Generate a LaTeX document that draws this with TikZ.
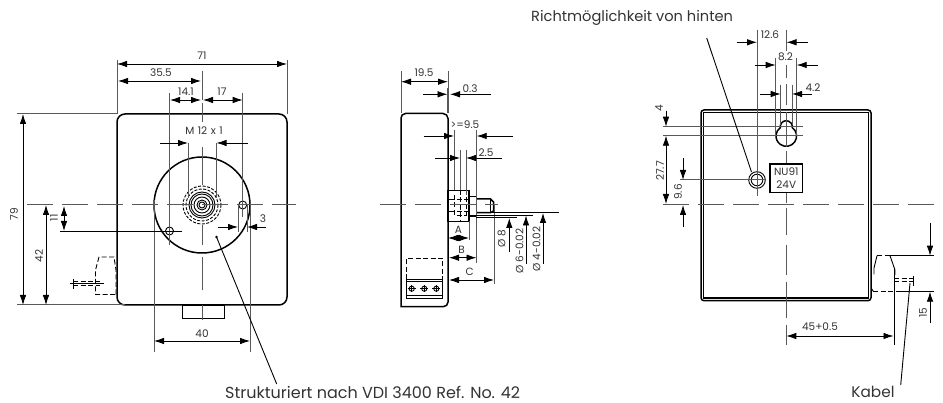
\documentclass[tikz,border=0pt]{standalone}
\usepackage{fontspec}
\setmainfont{Poppins}
\usetikzlibrary{arrows.meta}
\definecolor{inkgray}{gray}{0.2}
\definecolor{extgray}{gray}{0.35}
\tikzset{
  outline/.style={line width=1.5pt,black},
  thinline/.style={line width=0.9pt,black},
  extline/.style={line width=1pt,extgray},
  cline/.style={line width=1pt,extgray,dash pattern=on 26pt off 9pt},
  hidden/.style={line width=0.9pt,black,dash pattern=on 5pt off 2.5pt},
  dimline/.style={line width=0.8pt,black,{Latex[length=10pt,width=6.5pt]}-{Latex[length=10pt,width=6.5pt]}},
  dimto/.style={line width=0.8pt,black,-{Latex[length=10pt,width=6.5pt]}},
  lbl/.style={font=\fontsize{10.5}{10.5}\selectfont,text=inkgray,inner sep=0pt},
  rotlbl/.style={lbl,rotate=90},
  caption/.style={font=\fontsize{15.3}{16}\selectfont,text=inkgray,inner sep=0pt}
}
\begin{document}
\begin{tikzpicture}[x=1pt,y=-1pt]
  \useasboundingbox (0,0) rectangle (943,403);

  % front view
  \draw[outline] (117,122) arc[start angle=180,end angle=270,radius=8] -- (279,114)
    arc[start angle=270,end angle=360,radius=8] -- (287,297)
    arc[start angle=0,end angle=90,radius=8] -- (125,305)
    arc[start angle=90,end angle=180,radius=8] -- cycle;
  \draw[thinline] (182,305) rectangle (224,318);
  \draw[outline] (202,205) circle [radius=48];
  \foreach \r in {3,5,8,11,13}{
    \draw[thinline] (202,205) circle [radius=\r];
  }
  \foreach \r in {16,19}{
    \draw[hidden,dash pattern=on 3pt off 1.5pt] (202,205) circle [radius=\r];
  }
  \draw[thinline] (242.7,205) circle [radius=4];
  \draw[thinline] (169.5,231) circle [radius=4];
  \draw[cline] (27,205) -- (296,205);
  \foreach \ya/\yb in {71/100,103/122,147/185,225/245,257/290,305/320}{
    \draw[extline] (202,\ya) -- (202,\yb);
  }

  \foreach \x/\ya/\yb in {117/60/114,287/60/114,169.5/93/245,242.7/93/217,188/143/198,216.5/143/198,154/200/352,250/200/352,238/205/232,247/205/232}{
    \draw[extline] (\x,\ya) -- (\x,\yb);
  }
  \foreach \y/\xa/\xb in {114/17/117,305/17/125}{
    \draw[extline] (\xa,\y) -- (\xb,\y);
  }
  \draw[thinline] (60,231) -- (182,231);

  \draw[dimline] (117,64) -- (287,64);
  \draw[dimline] (118,81) -- (201,81);
  \draw[dimline] (170,100) -- (201,100);
  \draw[dimline] (203,100) -- (242.7,100);
  \draw[dimto] (160,143) -- (188,143);
  \draw[dimto] (248,143) -- (216.5,143);
  \draw[dimto] (218,227) -- (238,227);
  \draw[dimto] (266,227) -- (247,227);
  \draw[dimline] (154,341) -- (250,341);
  \draw[dimline] (23,114) -- (23,305);
  \draw[dimline] (46,205) -- (46,305);
  \draw[dimline] (64,206) -- (64,231);

  \node[lbl] (l71) at (202,56) {71};
  \node[lbl] (l355) at (161,73) {35.5};
  \node[lbl] (l141) at (186,92) {14.1};
  \node[lbl] (l17) at (222,92) {17};
  \node[lbl] (lm12) at (204,131) {M\,\,12\,\,x\,\,1};
  \node[lbl] (l3) at (263,219) {3};
  \node[lbl] (l40) at (202,334) {40};
  \node[rotlbl] (l79) at (14,214) {79};
  \node[rotlbl] (l42) at (39,256) {42};
  \node[rotlbl] (l11) at (54,218) {11};

  % plug, front view
  \draw[hidden] (115,294.5) -- (95.5,294.5) -- (95.5,270) -- (99,257) -- (114,257) -- (116,270) -- (116,294.5);
  \draw[hidden] (73,281.5) -- (100,281.5);
  \draw[hidden] (73,285.5) -- (100,285.5);
  \draw[thinline] (73,279) -- (73,289);
  \draw[thinline] (70,283.5) -- (104,283.5);

  \coordinate (tipvdi) at (216.5,237);
  \coordinate (endvdi) at (276.7,384);
  \fill (tipvdi) circle [radius=1.3];
  \draw[thinline] (tipvdi) -- (endvdi);
  \node[caption,font=\fontsize{16}{16}\selectfont,anchor=west] (lvdi) at (225,392.5) {Strukturiert nach VDI 3400 Ref. No. 42};

  % side view
  \draw[outline] (401,306.7) -- (401,118) arc[start angle=180,end angle=270,radius=4.5] -- (443,113.5)
    arc[start angle=270,end angle=360,radius=5] -- (448,302)
    arc[start angle=0,end angle=90,radius=4.7] -- cycle;
  \draw[outline] (448,190.5) rectangle (469,221.7);
  \draw[outline] (469,196.7) rectangle (476.5,216);
  \draw[outline] (476.5,199) -- (490.5,199) -- (493.5,202) -- (493.5,211) -- (490.5,212.7) -- (476.5,212.7);
  \draw[thinline] (490.5,199) -- (490.5,212.7);
  \draw[hidden] (454,195) -- (454,215) -- (466,215) -- (466,195);
  \draw[hidden] (460.5,190) -- (460.5,221);
  \draw[hidden] (449,199) -- (468,199);
  \draw[hidden] (449,211) -- (468,211);
  \draw[cline] (380,205) -- (498,205);

  \foreach \x/\ya/\yb in {401/71/113,448/71/113,447.5/88/113,454/130/190,460.5/150/190,466/150/195,476.7/130/263,469/221/240,494/205/284}{
    \draw[extline] (\x,\ya) -- (\x,\yb);
  }
  \foreach \y/\xa/\xb in {212.7/490/559,215/476/533,217.3/476/517}{
    \draw[thinline] (\xa,\y) -- (\xb,\y);
  }
  \draw[dimline] (401,81.7) -- (448,81.7);
  \draw[dimto] (423,94.3) -- (447.5,94.3);
  \draw[dimto] (491,94.3) -- (450,94.3);
  \draw[dimto] (423.5,136) -- (454,136);
  \draw[dimto] (513,136) -- (476.7,136);
  \draw[dimto] (435,158) -- (460,158);
  \draw[dimto] (502,158) -- (466,158);
  \draw[dimline] (448,238) -- (469,238);
  \draw[dimline] (449,257.7) -- (476.5,257.7);
  \draw[dimline] (449,280) -- (494,280);
  \draw[thinline] (458.5,235) -- (458.5,241);
  \draw[dimto] (509.3,251.7) -- (509.3,218);
  \draw[dimto] (526,264) -- (526,215.5);
  \draw[dimto] (543,264) -- (543,213);

  \node[lbl] (l195) at (424,73) {19.5};
  \node[lbl] (l03) at (470,89) {0.3};
  \node[lbl] (l95) at (465,125) {>=9.5};
  \node[lbl] (l25) at (486,153) {2.5};
  \node[lbl] (la) at (458.5,230) {A};
  \node[lbl] (lb) at (461.5,250) {B};
  \node[lbl] (lc) at (469.7,272) {C};
  \node[rotlbl] (ld8) at (501.5,239) {Ø 8};
  \node[rotlbl] (ld6) at (519.5,251) {Ø 6-0.02};
  \node[rotlbl] (ld4) at (536.5,249) {Ø 4-0.02};

  % terminals
  \draw[hidden] (406.7,279.3) -- (406.7,258.3) -- (442.7,258.3) -- (442.7,279.3);
  \draw[thinline] (406.7,279.3) rectangle (442.7,298.3);
  \draw[thinline] (406.7,281.7) -- (442.7,281.7);
  \draw[thinline] (406.7,295) -- (442.7,295);
  \foreach \x in {411.7,424.3,436.3}{
    \draw[thinline] (\x,288.7) circle [radius=2.6];
    \draw[thinline] (\x-4,288.7) -- (\x+4,288.7);
    \draw[thinline] (\x,285) -- (\x,292.5);
  }

  % rear view
  \draw[outline] (701,113) arc[start angle=180,end angle=270,radius=3] -- (868,110)
    arc[start angle=270,end angle=360,radius=3] -- (871,297.7)
    arc[start angle=0,end angle=90,radius=3] -- (704,300.7)
    arc[start angle=90,end angle=180,radius=3] -- cycle;
  \draw[outline] (703.5,112.5) -- (868.5,112.5) -- (868.5,298) -- (703.5,298) -- cycle;
  \draw[outline] (786.3,136) ++(-54.6:10.3) arc[start angle=-54.6,end angle=234.6,radius=10.3]
    arc[start angle=171.4,end angle=368.6,radius=6];
  \draw[thinline] (757,180) circle [radius=8.3];
  \draw[thinline] (757,180) circle [radius=5.8];
  \draw[line width=1.2pt] (770,164) rectangle (802.7,192.7);
  \draw[cline] (663,205) -- (934,205);
  \foreach \ya/\yb in {30/51,65/78,84/105,112/147,151/163,193/203,208/235,245/275,282/318,325/345}{
    \draw[extline] (786.3,\ya) -- (786.3,\yb);
  }

  \foreach \x/\ya/\yb in {757/30/196,775.7/58/135,796.7/58/135,780.7/85/125,792/85/125}{
    \draw[extline] (\x,\ya) -- (\x,\yb);
  }
  \foreach \y/\xa/\xb in {126.7/663/802.7,135.7/663/802.7,180/680/765}{
    \draw[extline] (\xa,\y) -- (\xb,\y);
  }
  \draw[thinline] (894.3,268) -- (894.3,345);
  \draw[thinline] (890,255.7) -- (934,255.7);
  \draw[thinline] (901,291.7) -- (934,291.7);

  \draw[dimto] (736.7,42.3) -- (757,42.3);
  \draw[dimto] (807.7,42.3) -- (786.5,42.3);
  \draw[dimto] (755,65) -- (775.7,65);
  \draw[dimto] (817.7,65) -- (796.7,65);
  \draw[dimto] (760,94) -- (780.7,94);
  \draw[dimto] (812,94) -- (792,94);
  \draw[dimto] (666,110.7) -- (666,126.7);
  \draw[dimline] (666,135.7) -- (666,204);
  \draw[dimto] (683,158) -- (683,180);
  \draw[dimto] (683,226.7) -- (683,205);
  \draw[dimto] (930,223) -- (930,255.7);
  \draw[dimto] (930,323) -- (930,291.7);
  \draw[dimline] (786.3,336) -- (893.5,336);

  \node[lbl] (l126) at (770,35) {12.6};
  \node[lbl] (l82) at (785.5,57) {8.2};
  \node[lbl] (l42b) at (813,88) {4.2};
  \node[rotlbl] (l4) at (659,108) {4};
  \node[rotlbl] (l277) at (660,171) {27.7};
  \node[rotlbl] (l96) at (678,192) {9.6};
  \node[rotlbl] (l15) at (923,313) {15};
  \node[lbl] (l45) at (820,327) {45+0.5};
  \node[lbl] (lnu) at (786.3,172) {NU91};
  \node[lbl] (l24) at (786.3,185) {24V};

  % plug, rear view
  \draw[hidden] (877,255.7) -- (890,255.7);
  \draw[thinline] (874,274.5) -- (874,268) -- (877,255.7);
  \draw[thinline] (890,255.7) -- (895,270) -- (895,275);
  \draw[hidden] (873,291.7) -- (901,291.7);
  \draw[thinline] (871.7,289) -- (873.5,291.7);
  \draw[hidden] (894,278) -- (913,278);
  \draw[hidden] (894,281.5) -- (913,281.5);
  \draw[thinline] (913,276) -- (913,286);

  \coordinate (tiphole) at (751.5,172);
  \coordinate (starthole) at (706.7,38);
  \draw[thinline] (starthole) -- (tiphole);
  \node[caption,font=\fontsize{14.6}{15}\selectfont,anchor=west] (lricht) at (531,18) {Richtmöglichkeit von hinten};

  \coordinate (tipkabel) at (910,283);
  \coordinate (endkabel) at (900.7,385);
  \draw[thinline] (tipkabel) -- (endkabel);
  \node[caption] (lkabel) at (873,392) {Kabel};
\end{tikzpicture}
\end{document}
